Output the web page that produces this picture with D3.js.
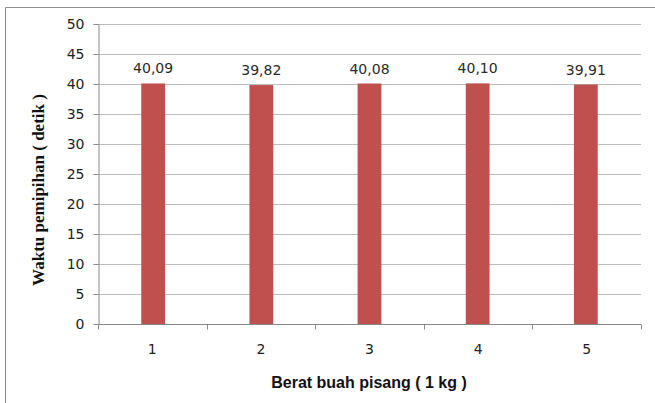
<!DOCTYPE html>
<html>
<head>
<meta charset="utf-8">
<script src="https://cdn.jsdelivr.net/npm/d3@7"></script>
<style>
  body { margin: 0; background: #fff; }
  svg { display: block; }
</style>
</head>
<body>
<div id="chart"></div>
<script>
const categories = ["1", "2", "3", "4", "5"];
const values = [40.09, 39.82, 40.08, 40.10, 39.91];
const valueLabels = ["40,09", "39,82", "40,08", "40,10", "39,91"];
const yTicks = [0, 5, 10, 15, 20, 25, 30, 35, 40, 45, 50];

const W = 655, H = 403;
const margin = { top: 24, right: 14, bottom: 79, left: 98 };
const width = W - margin.left - margin.right;
const height = H - margin.top - margin.bottom;

const svg = d3.select("#chart").append("svg")
    .attr("width", W)
    .attr("height", H);

// outer chart border (runs off the right and bottom edges)
svg.append("path")
    .attr("d", `M5.5,${H + 5} V7.5 H${W + 5}`)
    .attr("fill", "none")
    .attr("stroke", "#8c8c8c")
    .attr("stroke-width", 1);

const g = svg.append("g")
    .attr("transform", `translate(${margin.left},${margin.top})`);

const x = d3.scaleBand().domain(categories).range([0, width]).paddingInner(0.78).paddingOuter(0.4);
const xOuter = d3.scaleBand().domain(categories).range([0, width]);
const y = d3.scaleLinear().domain([0, 50]).range([height, 0]);

// gridlines
g.append("g")
    .selectAll("line")
    .data(yTicks.filter(d => d > 0))
    .enter().append("line")
    .attr("x1", 0)
    .attr("x2", width)
    .attr("y1", d => Math.round(y(d)) + 0.5)
    .attr("y2", d => Math.round(y(d)) + 0.5)
    .attr("stroke", "#bdbdbd");

// y axis
const yAxis = g.append("g")
    .attr("transform", "translate(0.5,0)")
    .call(d3.axisLeft(y).tickValues(yTicks).tickSize(5).tickPadding(9).tickSizeOuter(0));
yAxis.selectAll("path, line").attr("stroke", "#8a8a8a");
yAxis.selectAll("text")
    .style("font-family", "DejaVu Sans, Verdana, sans-serif")
    .style("font-size", "14px")
    .attr("fill", "#222");

// bars
g.selectAll("rect.bar")
    .data(values)
    .enter().append("rect")
    .attr("class", "bar")
    .attr("x", (d, i) => x(categories[i]))
    .attr("width", x.bandwidth())
    .attr("y", d => y(d))
    .attr("height", d => height - y(d))
    .attr("fill", "#c0504d");

// value labels
g.selectAll("text.val")
    .data(values)
    .enter().append("text")
    .attr("class", "val")
    .attr("x", (d, i) => x(categories[i]) + x.bandwidth() / 2)
    .attr("y", d => y(d) - 10)
    .attr("text-anchor", "middle")
    .style("font-family", "DejaVu Sans, Verdana, sans-serif")
    .style("font-size", "14px")
    .attr("fill", "#2a2a2a")
    .text((d, i) => valueLabels[i]);

// x axis: ticks at category boundaries
const xAxis = g.append("g")
    .attr("transform", `translate(0,${height + 0.5})`);
xAxis.append("line")
    .attr("x1", 0).attr("x2", width)
    .attr("stroke", "#8a8a8a");
xAxis.selectAll("line.tick")
    .data(categories.concat(["end"]))
    .enter().append("line")
    .attr("class", "tick")
    .attr("x1", (d, i) => Math.round(i * xOuter.step()) + 0.5)
    .attr("x2", (d, i) => Math.round(i * xOuter.step()) + 0.5)
    .attr("y1", 0).attr("y2", 5)
    .attr("stroke", "#8a8a8a");
xAxis.selectAll("text")
    .data(categories)
    .enter().append("text")
    .attr("x", d => xOuter(d) + xOuter.bandwidth() / 2)
    .attr("y", 29)
    .attr("text-anchor", "middle")
    .style("font-family", "DejaVu Sans, Verdana, sans-serif")
    .style("font-size", "14px")
    .attr("fill", "#222")
    .text(d => d);

// axis titles
svg.append("text")
    .attr("x", 369)
    .attr("y", 388)
    .attr("text-anchor", "middle")
    .style("font-family", "Liberation Sans, Arial, sans-serif")
    .style("font-size", "16px")
    .style("font-weight", "bold")
    .attr("fill", "#111")
    .text("Berat buah pisang ( 1 kg )");

svg.append("text")
    .attr("transform", "translate(44,190) rotate(-90)")
    .attr("text-anchor", "middle")
    .style("font-family", "Liberation Serif, Times New Roman, serif")
    .style("font-size", "17px")
    .style("font-weight", "bold")
    .attr("fill", "#111")
    .text("Waktu pemipihan ( detik )");
</script>
</body>
</html>
